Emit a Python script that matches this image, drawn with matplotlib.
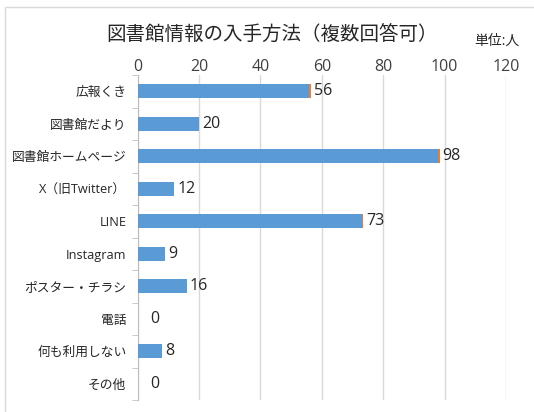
import matplotlib
matplotlib.use("Agg")
import matplotlib.pyplot as plt
from matplotlib.patches import Rectangle

plt.rcParams['font.family'] = ['Open Sans', 'Noto Sans CJK JP', 'DejaVu Sans']

categories = ["広報くき", "図書館だより", "図書館ホームページ", "X（旧Twitter）", "LINE",
              "Instagram", "ポスター・チラシ", "電話", "何も利用しない", "その他"]
values = [56, 20, 98, 12, 73, 9, 16, 0, 8, 0]
accent = [0.4, 0, 0.4, 0, 0.4, 0, 0, 0, 0, 0]
xticks = [0, 20, 40, 60, 80, 100, 120]
title = "図書館情報の入手方法（複数回答可）"
unit_label = "単位:人"

W, H = 534, 412
fig = plt.figure(figsize=(W / 100, H / 100), dpi=100)
fig.patches.append(Rectangle((5 / W, -0.1), 1.2, 1.1 - 7 / H, transform=fig.transFigure,
                             fill=False, edgecolor="#d9d9d9", linewidth=1))
ax = fig.add_axes([137.5 / W, 1 - 400 / H, (506 - 137.5) / W, (400 - 75) / H])

ypos = list(range(len(categories)))
ax.barh(ypos, values, height=0.43, color="#5B9BD5", zorder=3)
ax.barh(ypos, accent, left=values, height=0.43, color="#ED7D31", zorder=3)

for y, v, a in zip(ypos, values, accent):
    off = 1.0 if v > 0 else 4.0
    ax.text(v + a + off, y, str(v), va="center", ha="left", fontsize=11.5, color="#262626")

ax.set_ylim(len(categories) - 0.5, -0.5)
ax.set_xlim(0, 120)
ax.set_yticks(ypos)
ax.set_yticklabels(categories, fontsize=9.2, color="#262626")
ax.set_yticks([i - 0.5 for i in range(len(categories) + 1)], minor=True)
ax.tick_params(axis="y", which="major", length=0, pad=8)
ax.tick_params(axis="y", which="minor", length=4, color="#bfbfbf")

ax.xaxis.tick_top()
ax.set_xticks(xticks)
ax.set_xticklabels([str(t) for t in xticks], fontsize=11.5, color="#404040")
ax.tick_params(axis="x", length=0, pad=0)
ax.grid(axis="x", color="#d9d9d9", linewidth=1, zorder=0)

for s in ["top", "right", "bottom"]:
    ax.spines[s].set_visible(False)
ax.spines["left"].set_color("#bfbfbf")

fig.text(272 / W, 1 - 35 / H, title, ha="center", va="center", fontsize=14, color="#262626")
fig.text(497 / W, 1 - 41 / H, unit_label, ha="center", va="center", fontsize=10, color="#262626")

fig.savefig("out.png", dpi=100)
